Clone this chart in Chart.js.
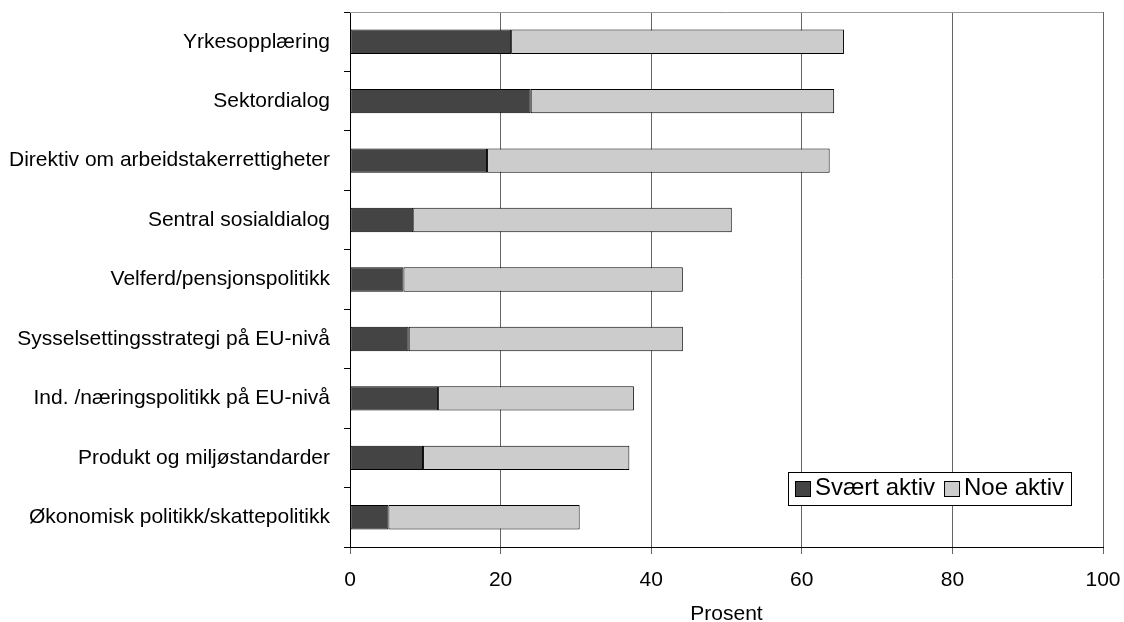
<!DOCTYPE html>
<html>
<head>
<meta charset="utf-8">
<script src="https://cdn.jsdelivr.net/npm/chart.js@4/dist/chart.umd.min.js"></script>
<style>
  html, body { margin: 0; padding: 0; background: #fff; }
  .chart { width: 1124px; height: 622px; position: relative; }
</style>
</head>
<body>
<div class="chart"><canvas id="chart"></canvas></div>
<script>
const categories = [
    'Yrkesopplæring',
    'Sektordialog',
    'Direktiv om arbeidstakerrettigheter',
    'Sentral sosialdialog',
    'Velferd/pensjonspolitikk',
    'Sysselsettingsstrategi på EU-nivå',
    'Ind. /næringspolitikk på EU-nivå',
    'Produkt og miljøstandarder',
    'Økonomisk politikk/skattepolitikk'
];
const svaertAktiv = [21.4, 24.0, 18.2, 8.4, 7.1, 7.8, 11.7, 9.7, 5.1];
const noeAktiv = [44.2, 40.3, 45.5, 42.3, 37.1, 36.4, 26.0, 27.4, 25.4];
const xTicks = [0, 20, 40, 60, 80, 100];
const axisTitle = 'Prosent';

const fontFamily = '"Liberation Sans", Arial, sans-serif';
Chart.defaults.font.family = fontFamily;
Chart.defaults.font.size = 21;
Chart.defaults.color = '#000';

// no extra room for half labels, the plot area is fixed by layout padding
const noEdgePadding = (axis) => {
    axis.paddingTop = 0;
    axis.paddingBottom = 0;
    axis.paddingLeft = 0;
    axis.paddingRight = 0;
};

// legend box in the lower right corner of the plot, plus the top frame line
const boxLegend = {
    id: 'boxLegend',
    afterDraw(chart) {
        const {ctx, chartArea} = chart;
        ctx.save();
        ctx.strokeStyle = '#999';
        ctx.lineWidth = 1;
        ctx.beginPath();
        ctx.moveTo(chartArea.left, Math.round(chartArea.top) + 0.5);
        ctx.lineTo(chartArea.right, Math.round(chartArea.top) + 0.5);
        ctx.stroke();

        ctx.font = '24px ' + fontFamily;
        const items = chart.data.datasets.map(ds => ({
            label: ds.label,
            color: ds.backgroundColor,
            w: ctx.measureText(ds.label).width
        }));
        const marker = 16;
        const width = Math.round(6 + items.reduce((acc, it, i) => acc + marker + 4 + it.w + (i < items.length - 1 ? 9 : 8), 0));
        const right = Math.round(chartArea.right - 32);
        const bottom = Math.round(chartArea.bottom - 42);
        const height = 33;
        const left = right - width;
        const top = bottom - height;

        ctx.fillStyle = '#fff';
        ctx.fillRect(left, top, width, height);
        ctx.strokeStyle = '#000';
        ctx.strokeRect(left + 0.5, top + 0.5, width, height);

        const cy = top + height / 2;
        let x = left + 7;
        ctx.textBaseline = 'middle';
        ctx.textAlign = 'left';
        items.forEach(it => {
            const my = Math.round(cy - marker / 2);
            ctx.fillStyle = it.color;
            ctx.fillRect(x, my, marker, marker);
            ctx.strokeStyle = '#000';
            ctx.strokeRect(x + 0.5, my + 0.5, marker - 1, marker - 1);
            x += marker + 4;
            ctx.fillStyle = '#000';
            ctx.fillText(it.label, x, cy);
            x += it.w + 9;
        });
        ctx.restore();
    }
};

const ctx = document.getElementById('chart').getContext('2d');

new Chart(ctx, {
    type: 'bar',
    data: {
        labels: categories,
        datasets: [
            {
                label: 'Svært aktiv',
                data: svaertAktiv,
                backgroundColor: '#444444',
                borderColor: '#000',
                borderWidth: 1,
                borderSkipped: false,
                barPercentage: 0.41,
                categoryPercentage: 1
            },
            {
                label: 'Noe aktiv',
                data: noeAktiv,
                backgroundColor: '#cccccc',
                borderColor: '#000',
                borderWidth: 1,
                borderSkipped: false,
                barPercentage: 0.41,
                categoryPercentage: 1
            }
        ]
    },
    options: {
        indexAxis: 'y',
        responsive: true,
        maintainAspectRatio: false,
        animation: false,
        devicePixelRatio: 1,
        layout: {
            padding: {top: 12, right: 21, left: 0, bottom: 0}
        },
        scales: {
            x: {
                stacked: true,
                min: xTicks[0],
                max: xTicks[xTicks.length - 1],
                afterBuildTicks: (axis) => {
                    axis.ticks = xTicks.map(v => ({value: v}));
                },
                afterFit: (axis) => {
                    axis.height = 75;
                    noEdgePadding(axis);
                },
                grid: {
                    color: '#666',
                    tickLength: 7,
                    drawOnChartArea: true
                },
                border: {color: '#000', width: 1},
                ticks: {padding: 14, font: {size: 21}},
                title: {
                    display: true,
                    text: axisTitle,
                    font: {size: 21, lineHeight: 0.72},
                    padding: {top: 0, bottom: 0}
                }
            },
            y: {
                stacked: true,
                afterFit: (axis) => {
                    axis.width = 350;
                    noEdgePadding(axis);
                },
                grid: {
                    drawOnChartArea: false,
                    drawTicks: true,
                    tickLength: 6,
                    color: '#000'
                },
                border: {color: '#000', width: 1},
                ticks: {padding: 14, font: {size: 21}}
            }
        },
        plugins: {
            legend: {display: false},
            tooltip: {enabled: false}
        }
    },
    plugins: [boxLegend]
});
</script>
</body>
</html>
